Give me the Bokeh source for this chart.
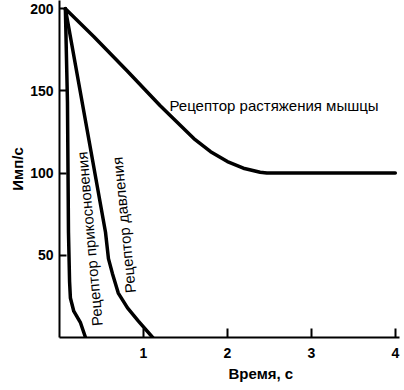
from bokeh.plotting import figure
from bokeh.models import Range1d, FixedTicker, Label, Title
from bokeh.embed import file_html
from bokeh.resources import INLINE

# Data
stretch_x = [0.07, 0.41, 0.81, 1.20, 1.60, 1.80, 2.00, 2.19, 2.39, 2.47, 4.00]
stretch_y = [200, 183, 162, 141, 121, 113, 107, 103, 100.5, 100, 100]

pressure_x = [0.07, 0.548, 0.583, 0.63, 0.70, 0.81, 0.94, 1.11]
pressure_y = [200, 64, 48, 39, 27, 18, 10, 0]

touch_x = [0.07, 0.095, 0.107, 0.12, 0.13, 0.17, 0.25, 0.31]
touch_y = [200, 143, 64, 34, 24, 16, 9, 0]

x_ticks = [1, 2, 3, 4]
y_ticks = [50, 100, 150, 200]

label_stretch = "Рецептор растяжения мышцы"
label_touch = "Рецептор прикосновения"
label_pressure = "Рецептор давления"
x_title = "Время, с"
y_title = "Имп/с"

FONT = "Liberation Sans"

p = figure(width=404, height=390, output_backend="svg", toolbar_location=None,
           x_range=Range1d(0, 4.05), y_range=Range1d(0, 205),
           min_border_left=59, min_border_right=5, min_border_top=0,
           min_border_bottom=53)
p.outline_line_color = None
p.grid.visible = False
p.background_fill_color = "white"
p.border_fill_color = "white"

for ax in (p.xaxis, p.yaxis):
    ax.axis_line_width = 2
    ax.axis_line_color = "black"
    ax.major_tick_line_width = 2
    ax.major_tick_line_color = "black"
    ax.major_tick_out = 0
    ax.minor_tick_line_color = None
    ax.major_label_text_font = FONT
    ax.major_label_text_font_size = "14px"
    ax.major_label_text_font_style = "bold"
    ax.major_label_text_color = "black"

p.xaxis.ticker = FixedTicker(ticks=x_ticks)
p.yaxis.ticker = FixedTicker(ticks=y_ticks)
p.xaxis.major_tick_in = 9
p.yaxis.major_tick_in = 7
p.xaxis.major_label_standoff = 10
p.yaxis.major_label_standoff = 6

for xs, ys in ((stretch_x, stretch_y), (pressure_x, pressure_y), (touch_x, touch_y)):
    p.line(xs, ys, line_color="black", line_width=3.5, line_join="round", line_cap="round")

p.add_layout(Label(x=1.31, y=141, text=label_stretch, text_font=FONT,
                   text_font_size="15px", text_baseline="middle", text_align="left",
                   text_color="black"))
p.add_layout(Label(x=0.45, y=7, text=label_touch, text_font=FONT,
                   text_font_size="15px", text_baseline="middle", text_align="left",
                   angle=1.66, text_color="black"))
p.add_layout(Label(x=0.845, y=27, text=label_pressure, text_font=FONT,
                   text_font_size="15px", text_baseline="middle", text_align="left",
                   angle=1.67, text_color="black"))

p.add_layout(Title(text=x_title, align="left", offset=169, standoff=4,
                   text_font=FONT, text_font_size="15px", text_font_style="bold",
                   text_color="black"), "below")
p.add_layout(Title(text=y_title, align="center", offset=15, standoff=4,
                   text_font=FONT, text_font_size="15px", text_font_style="bold",
                   text_color="black"), "left")

open("out.html", "w").write(file_html(p, INLINE))
